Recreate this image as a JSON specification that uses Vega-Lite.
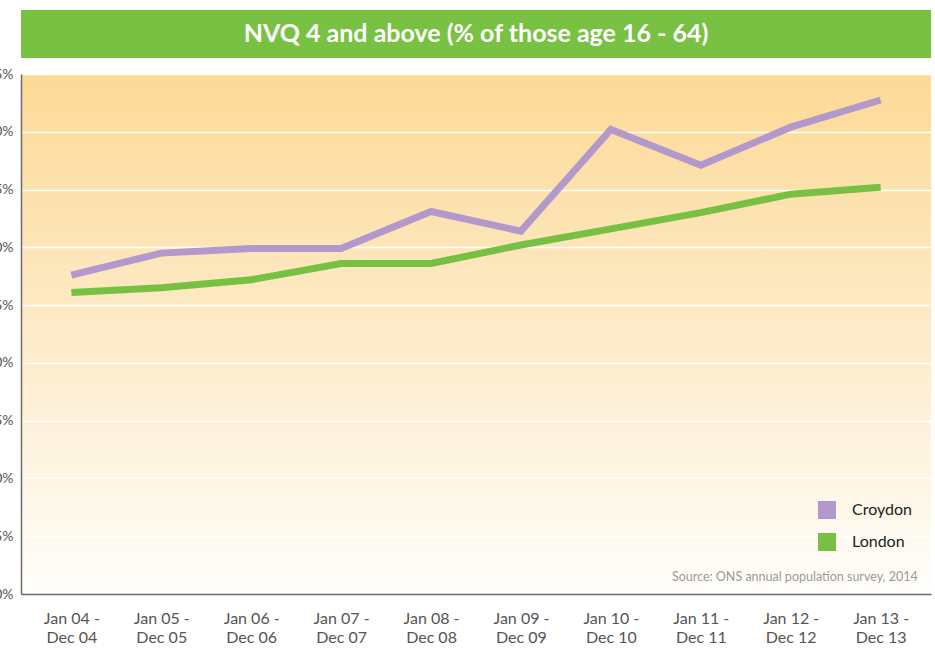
{
  "$schema": "https://vega.github.io/schema/vega-lite/v6.json",
  "autosize": {"type": "none"},
  "width": 910,
  "height": 520,
  "padding": {"left": 21, "top": 74, "right": 4, "bottom": 54},
  "background": "#ffffff",
  "config": {
    "font": "Lato",
    "view": {
      "stroke": null,
      "fill": {
        "gradient": "linear",
        "x1": 0, "y1": 0, "x2": 0, "y2": 1,
        "stops": [
          {"offset": 0, "color": "#fdd995"},
          {"offset": 0.5, "color": "#fdebc9"},
          {"offset": 1, "color": "#fffefb"}
        ]
      }
    }
  },
  "datasets": {
    "series": [
      {"period": "Jan 04 - Dec 04", "area": "Croydon", "value": 27.6},
      {"period": "Jan 05 - Dec 05", "area": "Croydon", "value": 29.5},
      {"period": "Jan 06 - Dec 06", "area": "Croydon", "value": 29.9},
      {"period": "Jan 07 - Dec 07", "area": "Croydon", "value": 29.9},
      {"period": "Jan 08 - Dec 08", "area": "Croydon", "value": 33.1},
      {"period": "Jan 09 - Dec 09", "area": "Croydon", "value": 31.4},
      {"period": "Jan 10 - Dec 10", "area": "Croydon", "value": 40.2},
      {"period": "Jan 11 - Dec 11", "area": "Croydon", "value": 37.1},
      {"period": "Jan 12 - Dec 12", "area": "Croydon", "value": 40.4},
      {"period": "Jan 13 - Dec 13", "area": "Croydon", "value": 42.75},
      {"period": "Jan 04 - Dec 04", "area": "London", "value": 26.1},
      {"period": "Jan 05 - Dec 05", "area": "London", "value": 26.5},
      {"period": "Jan 06 - Dec 06", "area": "London", "value": 27.2},
      {"period": "Jan 07 - Dec 07", "area": "London", "value": 28.6},
      {"period": "Jan 08 - Dec 08", "area": "London", "value": 28.6},
      {"period": "Jan 09 - Dec 09", "area": "London", "value": 30.2},
      {"period": "Jan 10 - Dec 10", "area": "London", "value": 31.6},
      {"period": "Jan 11 - Dec 11", "area": "London", "value": 33.0},
      {"period": "Jan 12 - Dec 12", "area": "London", "value": 34.6},
      {"period": "Jan 13 - Dec 13", "area": "London", "value": 35.2}
    ]
  },
  "layer": [
    {
      "data": {"name": "series"},
      "mark": {"type": "line", "strokeWidth": 7, "strokeCap": "butt", "strokeJoin": "miter"},
      "encoding": {
        "x": {
          "field": "period",
          "type": "ordinal",
          "sort": null,
          "scale": {"type": "point", "padding": 0.56},
          "axis": {
            "title": null,
            "labelAngle": 0,
            "labelExpr": "[slice(datum.value, 0, 8), slice(datum.value, 9)]",
            "labelFontSize": 16,
            "labelColor": "#555555",
            "labelPadding": 16,
            "labelLineHeight": 19,
            "ticks": false,
            "grid": false,
            "domainColor": "#6b6b6b",
            "domainWidth": 1.5
          }
        },
        "y": {
          "field": "value",
          "type": "quantitative",
          "scale": {"domain": [0, 45], "nice": false, "zero": true},
          "axis": {
            "title": null,
            "values": [0, 5, 10, 15, 20, 25, 30, 35, 40, 45],
            "labelExpr": "datum.value + '%'",
            "labelFontSize": 14,
            "labelColor": "#555555",
            "labelPadding": 8,
            "ticks": false,
            "gridColor": "#ffffff",
            "gridWidth": 1.5,
            "domainColor": "#6b6b6b",
            "domainWidth": 1.5
          }
        },
        "color": {
          "field": "area",
          "type": "nominal",
          "scale": {"domain": ["Croydon", "London"], "range": ["#b399cb", "#78c043"]},
          "legend": {
            "title": null,
            "orient": "none",
            "legendX": 797,
            "legendY": 427,
            "symbolType": "square",
            "symbolSize": 81,
            "symbolStrokeWidth": 9,
            "symbolOpacity": 1,
            "labelFontSize": 16,
            "labelColor": "#222222",
            "labelOffset": 16,
            "rowPadding": -22
          }
        }
      }
    },
    {
      "data": {"values": [{"source": "Source: ONS annual population survey, 2014"}]},
      "mark": {"type": "text", "align": "right", "baseline": "middle", "fontSize": 12.5, "color": "#9a9a9a", "dx": 37},
      "encoding": {
        "x": {"datum": "Jan 13 - Dec 13", "type": "ordinal"},
        "y": {"datum": 1.45, "type": "quantitative"},
        "text": {"field": "source"}
      }
    },
    {
      "data": {"values": [{"band": "header"}]},
      "mark": {"type": "rect", "color": "#79c143"},
      "encoding": {
        "y": {"datum": 50.54, "type": "quantitative"},
        "y2": {"datum": 46.38}
      }
    },
    {
      "data": {"values": [{"title": "NVQ 4 and above (% of those age 16 - 64)"}]},
      "mark": {"type": "text", "align": "center", "baseline": "middle", "fontSize": 25, "fontWeight": "bold", "color": "#ffffff"},
      "encoding": {
        "y": {"datum": 48.46, "type": "quantitative"},
        "text": {"field": "title"}
      }
    }
  ]
}
